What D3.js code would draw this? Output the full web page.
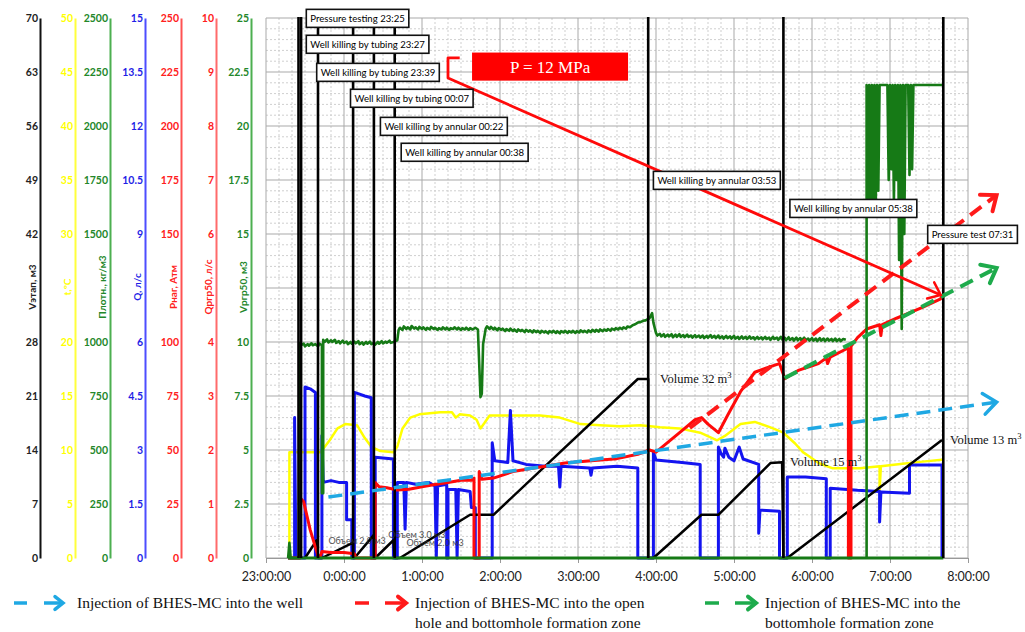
<!DOCTYPE html>
<html>
<head>
<meta charset="utf-8">
<script src="https://cdn.jsdelivr.net/npm/d3@7"></script>
<style>
  body { margin: 0; background: #fff; }
  text { font-family: Lato, "Liberation Sans", sans-serif; }
  text.serif { font-family: "Liberation Serif", "Times New Roman", serif; }
</style>
</head>
<body>
<div id="container"></div>
<script>
// times are clock readings "H:MM", the record runs from 23:00 to 8:00
const hourTicks = ["23:00:00", "0:00:00", "1:00:00", "2:00:00", "3:00:00", "4:00:00", "5:00:00", "6:00:00", "7:00:00", "8:00:00"];

// left axes (one per channel); the middle tick is left out, its place holds the title
const axisTitles = ["Vэтап, м3", "t,°C", "Плотн., кг/м3", "Q, л/с", "Рнаг, Атм", "Qргр50, л/с", "Vргр50, м3"];
const vStageTicks = [0, 7, 14, 21, 28, 42, 49, 56, 63, 70];
const tempTicks = [0, 5, 10, 15, 20, 30, 35, 40, 45, 50];
const densTicks = [0, 250, 500, 750, 1000, 1500, 1750, 2000, 2250, 2500];
const flowTicks = [0, 1.5, 3, 4.5, 6, 9, 10.5, 12, 13.5, 15];
const presTicks = [0, 25, 50, 75, 100, 150, 175, 200, 225, 250];
const qTicks = [0, 1, 2, 3, 4, 6, 7, 8, 9, 10];
const vTicks = [0, 2.5, 5, 7.5, 10, 15, 17.5, 20, 22.5, 25];

// temperature, °C
const temperature = [["23:17", 0], ["23:18", 0], ["23:18", 9.8], ["23:42", 9.8], ["23:49", 10.9], ["23:55", 12.0], ["0:01", 12.4],
  ["0:10", 12.3], ["0:16", 11.1], ["0:21", 10.3], ["0:28", 9.9], ["0:38", 9.8], ["0:41", 10.3], ["0:45", 12.0], ["0:51", 13.0],
  ["0:58", 13.3], ["1:14", 13.5], ["1:23", 13.5], ["1:26", 13.0], ["1:29", 13.3], ["1:37", 13.2], ["1:42", 12.8], ["1:45", 12.0],
  ["1:48", 12.5], ["1:52", 13.2], ["2:00", 13.2], ["2:31", 13.2], ["2:46", 13.0], ["3:02", 12.4], ["3:17", 12.3], ["3:32", 12.2],
  ["3:48", 12.3], ["4:03", 12.1], ["4:18", 12.0], ["4:34", 11.6], ["4:47", 10.9], ["4:53", 11.3], ["5:05", 12.4], ["5:16", 12.6],
  ["5:28", 12.1], ["5:38", 11.6], ["5:47", 10.6], ["5:53", 9.8], ["5:58", 9.4], ["6:05", 8.8], ["6:16", 8.3], ["6:37", 8.3],
  ["6:52", 8.5], ["6:52", 6.3], ["6:53", 8.5], ["7:08", 8.7], ["7:23", 8.9], ["7:40", 9.1]];

// flow rate Q, l/s
const flow = [["23:17", 0], ["23:22", 0], ["23:22", 3.9], ["23:23", 0], ["23:30", 0], ["23:30", 4.75], ["23:34", 4.7], ["23:38", 4.6],
  ["23:38", 0], ["23:43", 0], ["23:43", 3.4], ["23:44", 2.1], ["23:50", 2.15], ["23:56", 2.1], ["0:02", 2.1], ["0:02", 1.06],
  ["0:06", 1.06], ["0:06", 0], ["0:08", 0], ["0:08", 4.6], ["0:12", 4.55], ["0:16", 4.5], ["0:21", 4.45], ["0:21", 0], ["0:24", 0],
  ["0:24", 2.8], ["0:38", 2.75], ["0:38", 0], ["0:41", 0], ["0:41", 2.1], ["0:46", 2.1], ["0:47", 0.8], ["0:48", 2.1], ["0:55", 2.05],
  ["1:05", 2.1], ["1:10", 2.0], ["1:11", 0], ["1:12", 2.0], ["1:19", 2.05], ["1:19", 0], ["1:20", 0], ["1:20", 1.9], ["1:26", 1.9],
  ["1:27", 0], ["1:28", 1.9], ["1:37", 1.85], ["1:38", 1.4], ["1:41", 1.4], ["1:41", 0], ["1:54", 0], ["1:54", 3.2], ["1:56", 2.7],
  ["2:06", 2.65], ["2:08", 4.1], ["2:10", 2.7], ["2:20", 2.6], ["2:35", 2.55], ["2:45", 2.55], ["2:46", 1.97], ["2:47", 2.55],
  ["3:09", 2.5], ["3:10", 2.3], ["3:11", 2.5], ["3:30", 2.55], ["3:46", 2.5], ["3:46", 0], ["3:58", 0], ["3:58", 2.94], ["4:00", 2.72],
  ["4:20", 2.65], ["4:34", 2.6], ["4:34", 0], ["4:48", 0], ["4:48", 3.08], ["4:50", 2.9], ["4:52", 2.8], ["4:53", 3.05], ["4:56", 2.8],
  ["5:00", 2.7], ["5:04", 3.08], ["5:07", 2.75], ["5:19", 2.6], ["5:19", 0.69], ["5:20", 1.33], ["5:35", 1.3], ["5:35", 0], ["5:41", 0],
  ["5:41", 2.25], ["5:55", 2.25], ["6:11", 2.2], ["6:11", 0], ["6:14", 0], ["6:14", 1.94], ["6:35", 1.88], ["6:52", 1.85], ["6:52", 1.0],
  ["6:53", 1.83], ["7:15", 1.8], ["7:15", 2.58], ["7:40", 2.58], ["7:40", 0]];

// volume of the stage, m3 (resets at each operation)
const stageVolume = [["23:30", 0], ["23:39", 2.3], ["23:40", 0], ["23:43", 0], ["0:07", 2.0], ["0:07", 0], ["0:08", 0], ["0:23", 3.0],
  ["0:23", 0], ["0:24", 0], ["0:38", 2.3], ["0:39", 0], ["0:43", 0], ["1:37", 5.6], ["1:55", 5.6], ["3:46", 23.2], ["3:54", 23.2],
  ["3:54", 0], ["3:58", 0], ["4:35", 5.6], ["4:48", 5.6], ["5:28", 12.3], ["5:37", 12.4], ["5:38", 0], ["5:41", 0], ["7:40", 15.3]];

// injection pressure, atm
const pressure = [["23:17", 0], ["23:26", 0], ["23:26", 28], ["23:29", 26], ["23:34", 13], ["23:40", 1], ["23:42", 1], ["23:43", 3],
  ["23:50", 2.5], ["0:00", 2.5], ["0:08", 2], ["0:09", 0], ["0:24", 0], ["0:24", 35], ["0:27", 33], ["0:33", 32.5], ["0:41", 31.5],
  ["0:50", 31.8], ["1:00", 33], ["1:10", 34], ["1:20", 35], ["1:30", 36], ["1:38", 36], ["1:40", 37], ["1:40", 0], ["1:44", 0],
  ["1:44", 40], ["1:46", 36.5], ["1:55", 37], ["2:10", 40], ["2:30", 42], ["2:50", 44], ["3:10", 45], ["3:30", 46], ["3:46", 48],
  ["3:55", 50], ["4:00", 49], ["4:10", 54], ["4:20", 59], ["4:30", 64], ["4:35", 65], ["4:40", 62], ["4:48", 58], ["4:55", 66],
  ["5:05", 77], ["5:16", 86], ["5:25", 88], ["5:35", 90], ["5:38", 85], ["5:39", 83], ["5:50", 87], ["6:00", 89], ["6:05", 90],
  ["6:11", 92.6], ["6:12", 90], ["6:14", 93], ["6:27", 97], ["6:28", 97], ["6:28", 0], ["6:30", 0], ["6:30", 98], ["6:35", 102],
  ["6:42", 106], ["6:52", 108], ["6:53", 103], ["6:54", 108], ["7:05", 111], ["7:13", 113], ["7:25", 116], ["7:39", 120], ["7:40", 121.8]];

// fluid density, kg/m3 (null = no record)
const density = [["23:17", 0], ["23:18", 70], ["23:19", 0], ["23:26", 0], ["23:26", 995], ["23:27", 985], ["23:29", 992], ["23:30", 980],
  ["23:32", 990], ["23:33", 983], ["23:35", 994], ["23:36", 985], ["23:38", 990], ["23:40", 980], ["23:41", 992], ["23:43", 985],
  ["23:43", 300], ["23:44", 300], ["23:44", 1010], ["23:45", 1000], ["23:47", 1012], ["23:48", 998], ["23:50", 1008], ["23:51", 1000],
  ["23:53", 1010], ["23:54", 996], ["23:56", 1004], ["23:57", 994], ["23:59", 1006], ["0:00", 996], ["0:02", 1002], ["0:03", 990],
  ["0:05", 1000], ["0:06", 992], ["0:08", 1002], ["0:09", 994], ["0:11", 1004], ["0:12", 990], ["0:14", 998], ["0:15", 988],
  ["0:17", 1000], ["0:18", 992], ["0:20", 1002], ["0:21", 990], ["0:23", 996], ["0:24", 988], ["0:26", 1000], ["0:27", 992],
  ["0:29", 1004], ["0:30", 994], ["0:32", 1002], ["0:33", 996], ["0:35", 1006], ["0:36", 996], ["0:38", 1000], ["0:41", 1008],
  ["0:42", 1055], ["0:43", 1066], ["0:45", 1056], ["0:46", 1072], ["0:48", 1060], ["0:49", 1068], ["0:51", 1058], ["0:52", 1074],
  ["0:54", 1062], ["0:55", 1068], ["0:57", 1058], ["0:58", 1070], ["1:00", 1060], ["1:01", 1068], ["1:03", 1056], ["1:04", 1066],
  ["1:06", 1058], ["1:07", 1070], ["1:09", 1060], ["1:10", 1066], ["1:12", 1056], ["1:13", 1064], ["1:15", 1058], ["1:16", 1068],
  ["1:18", 1058], ["1:19", 1066], ["1:21", 1056], ["1:22", 1064], ["1:24", 1060], ["1:25", 1068], ["1:27", 1058], ["1:28", 1066],
  ["1:30", 1056], ["1:31", 1064], ["1:33", 1058], ["1:34", 1066], ["1:36", 1056], ["1:37", 1064], ["1:39", 1058], ["1:41", 1066],
  ["1:43", 1058], ["1:45", 745], ["1:46", 760], ["1:47", 990], ["1:49", 1062], ["1:50", 1072], ["1:52", 1060], ["1:53", 1070],
  ["1:55", 1058], ["1:56", 1066], ["1:58", 1054], ["1:59", 1064], ["2:01", 1056], ["2:02", 1062], ["2:04", 1050], ["2:05", 1060],
  ["2:07", 1052], ["2:08", 1062], ["2:10", 1050], ["2:11", 1058], ["2:13", 1048], ["2:14", 1058], ["2:16", 1050], ["2:17", 1056],
  ["2:19", 1046], ["2:20", 1056], ["2:22", 1048], ["2:23", 1054], ["2:25", 1044], ["2:26", 1054], ["2:28", 1046], ["2:29", 1052],
  ["2:31", 1042], ["2:32", 1052], ["2:34", 1044], ["2:35", 1050], ["2:37", 1040], ["2:38", 1050], ["2:40", 1044], ["2:41", 1052],
  ["2:43", 1042], ["2:44", 1050], ["2:46", 1040], ["2:47", 1050], ["2:49", 1044], ["2:50", 1052], ["2:52", 1042], ["2:53", 1050],
  ["2:55", 1044], ["2:56", 1052], ["2:58", 1042], ["2:59", 1050], ["3:01", 1044], ["3:02", 1054], ["3:04", 1046], ["3:05", 1052],
  ["3:07", 1044], ["3:08", 1054], ["3:10", 1046], ["3:11", 1056], ["3:13", 1048], ["3:14", 1056], ["3:16", 1048], ["3:17", 1058],
  ["3:19", 1050], ["3:20", 1058], ["3:22", 1052], ["3:23", 1060], ["3:25", 1052], ["3:26", 1062], ["3:28", 1056], ["3:29", 1064],
  ["3:31", 1058], ["3:32", 1066], ["3:34", 1060], ["3:35", 1068], ["3:37", 1062], ["3:38", 1072], ["3:40", 1068], ["3:42", 1078],
  ["3:44", 1082], ["3:46", 1090], ["3:48", 1092], ["3:50", 1098], ["3:52", 1100], ["3:55", 1110], ["3:57", 1134], ["3:58", 1090],
  ["4:00", 1042], ["4:01", 1030], ["4:03", 1038], ["4:04", 1026], ["4:06", 1036], ["4:07", 1024], ["4:09", 1034], ["4:10", 1026],
  ["4:12", 1036], ["4:13", 1022], ["4:15", 1034], ["4:16", 1024], ["4:18", 1036], ["4:19", 1024], ["4:21", 1032], ["4:22", 1022],
  ["4:24", 1034], ["4:25", 1024], ["4:27", 1030], ["4:28", 1020], ["4:30", 1032], ["4:31", 1022], ["4:33", 1030], ["4:34", 1020],
  ["4:36", 1030], ["4:37", 1018], ["4:39", 1028], ["4:40", 1020], ["4:42", 1032], ["4:43", 1020], ["4:45", 1028], ["4:46", 1018],
  ["4:48", 1030], ["4:49", 1018], ["4:51", 1026], ["4:52", 1016], ["4:54", 1028], ["4:55", 1018], ["4:57", 1026], ["4:58", 1016],
  ["5:00", 1028], ["5:01", 1016], ["5:03", 1024], ["5:04", 1014], ["5:06", 1026], ["5:07", 1016], ["5:09", 1024], ["5:10", 1014],
  ["5:12", 1026], ["5:13", 1016], ["5:15", 1022], ["5:16", 1012], ["5:18", 1024], ["5:19", 1014], ["5:21", 1022], ["5:22", 1012],
  ["5:24", 1024], ["5:25", 1014], ["5:27", 1020], ["5:28", 1010], ["5:30", 1024], ["5:31", 1014], ["5:33", 1020], ["5:34", 1010],
  ["5:36", 1024], ["5:37", 1012], ["5:39", 1020], ["5:40", 1008], ["5:42", 1022], ["5:43", 1010], ["5:45", 1018], ["5:46", 1006],
  ["5:48", 1020], ["5:49", 1008], ["5:51", 1018], ["5:52", 1006], ["5:54", 1020], ["5:55", 1008], ["5:57", 1016], ["5:58", 1006],
  ["6:00", 1018], ["6:01", 1006], ["6:03", 1016], ["6:04", 1004], ["6:06", 1018], ["6:07", 1006], ["6:09", 1016], ["6:10", 1004],
  ["6:12", 1016], ["6:13", 1006], ["6:15", 1014], ["6:16", 1004], ["6:18", 1016], ["6:19", 1004], ["6:21", 1014], ["6:22", 1004],
  ["6:24", 1014], ["6:26", 1010],
  ["6:27", null], ["6:42", 0], ["6:42", 2190], ["6:43", 1590], ["6:44", 2190], ["6:45", 1620], ["6:46", 2190], ["6:47", 1660],
  ["6:48", 2190], ["6:49", 1600], ["6:50", 2190], ["6:51", 1700], ["6:52", 2190], ["6:58", 2190], ["6:59", 1750], ["7:00", 2190],
  ["7:01", 1800], ["7:02", 2190], ["7:03", 1650], ["7:04", 2190], ["7:05", 1750], ["7:06", 2190], ["7:07", 1380], ["7:08", 2190],
  ["7:09", 1060], ["7:10", 2190], ["7:11", 1500], ["7:12", 2190], ["7:14", 2190], ["7:15", 1773], ["7:16", 2190], ["7:17", 1800],
  ["7:18", 2190], ["7:41", 2190]];

// Vргр50, m3
const vrgr = [["23:17", 0], ["7:41", 0]];

// operations: vertical markers and their captions [text, box left time, box top on the 0-25 axis]
const eventTimes = ["23:25", "23:27", "23:40", "0:07", "0:23", "0:39", "3:54", "5:38", "7:41"];
const eventLabels = [
  ["Pressure testing 23:25", "23:31", 25.4],
  ["Well killing by tubing 23:27", "23:31", 24.2],
  ["Well killing by tubing 23:39", "23:39", 22.9],
  ["Well killing by tubing 00:07", "0:05", 21.7],
  ["Well killing by annular 00:22", "0:28", 20.4],
  ["Well killing by annular 00:38", "0:44", 19.2],
  ["Well killing by annular 03:53", "3:58", 17.9],
  ["Well killing by annular 05:38", "5:43", 16.6],
  ["Pressure test 07:31", "7:29", 15.4]
];

// stage volume captions next to the end of each ramp
const volumeNotes = [["Volume 32 m", "3:57", 23.2], ["Volume 15 m", "5:37", 12.4], ["Volume 13 m", "7:40", 15.3]];
const smallNotes = [["Объем 2.0 м3", "23:48", 1.8], ["Объем 3.0 м3", "0:34", 2.6], ["Объем 2.0 м3", "0:48", 1.6]];

// trend arrows, drawn in atm
const wellTrend = [["23:48", 28.2], ["8:22", 72.2]];
const openHoleTrend = [["4:26", 60.2], ["8:22", 168]];
const zoneTrend = [["5:39", 83.3], ["8:22", 134.3]];
const pressureCallout = [["1:29", 231.5], ["1:20", 231.5], ["1:20", 222.2], ["7:39", 121.8]];
const pressureBox = [["1:38:30", 234], ["3:38:30", 221]];

const legendItems = [
  ["Injection of BHES-MC into the well"],
  ["Injection of BHES-MC into the open", "hole and bottomhole formation zone"],
  ["Injection of BHES-MC into the", "bottomhole formation zone"]
];

const toMin = s => {
  const [h, m, sec = 0] = s.split(":").map(Number);
  return ((h + 1) % 24) * 60 + m + sec / 60;
};

const width = 1025, height = 632;
const plotTop = 18, plotBottom = 558;

const svg = d3.select("#container").append("svg")
  .attr("width", width)
  .attr("height", height)
  .attr("viewBox", [0, 0, width, height]);

const x = d3.scaleLinear().domain([0, 540]).range([266, 968]);
const yScale = max => d3.scaleLinear().domain([0, max]).range([plotBottom, plotTop]);
const yStage = yScale(70), yTemp = yScale(50), yDens = yScale(2500), yFlow = yScale(15),
  yPres = yScale(250), yQ = yScale(10), yV = yScale(25);

// grid
const gy = d3.scaleLinear().domain([0, 50]).range([plotBottom, plotTop]);
const grid = svg.append("g");
grid.selectAll(".hm").data(d3.range(0, 51).filter(d => d % 5)).join("line")
  .attr("x1", x(0)).attr("x2", x(540)).attr("y1", gy).attr("y2", gy)
  .attr("stroke", "#cfcfcf").attr("stroke-dasharray", "2,2");
grid.selectAll(".vm").data(d3.range(0, 541, 10).filter(d => d % 60)).join("line")
  .attr("x1", x).attr("x2", x).attr("y1", plotTop).attr("y2", plotBottom)
  .attr("stroke", "#cfcfcf").attr("stroke-dasharray", "2,2");
grid.selectAll(".hM").data(d3.range(0, 51, 5)).join("line")
  .attr("x1", x(0)).attr("x2", x(540)).attr("y1", gy).attr("y2", gy)
  .attr("stroke", "#a9a9a9");
grid.selectAll(".vM").data(d3.range(0, 541, 60)).join("line")
  .attr("x1", x).attr("x2", x).attr("y1", plotTop).attr("y2", plotBottom)
  .attr("stroke", "#a9a9a9");

// x axis
svg.append("g")
  .attr("transform", `translate(0,${plotBottom})`)
  .call(d3.axisBottom(x).tickValues(d3.range(0, 541, 60)).tickFormat((d, i) => hourTicks[i]).tickSize(5).tickPadding(9))
  .call(g => g.select(".domain").attr("stroke", "#999"))
  .call(g => g.selectAll(".tick line").attr("stroke", "#999"))
  .call(g => g.selectAll("text").attr("font-size", 12.5).attr("fill", "#222"));

// left axes
const axes = [
  [yStage, vStageTicks, 40, "#111", "#222"],
  [yTemp, tempTicks, 75, "#ffff3c", "#ffff00"],
  [yDens, densTicks, 110, "#4caf50", "#23872a"],
  [yFlow, flowTicks, 145, "#4d4dff", "#1f1fe6"],
  [yPres, presTicks, 181, "#ff5252", "#ff2020"],
  [yQ, qTicks, 216, "#ff6b6b", "#ff2020"],
  [yV, vTicks, 251, "#4caf50", "#23872a"]
];
axes.forEach(([scale, ticks, ax, line, ink], i) => {
  svg.append("g")
    .attr("transform", `translate(${ax},0)`)
    .call(d3.axisLeft(scale).tickValues(ticks).tickFormat(d => d).tickSize(0).tickPadding(2))
    .call(g => g.select(".domain").attr("stroke", line).attr("stroke-width", 2))
    .call(g => g.selectAll("text").attr("fill", ink).attr("font-size", 10.5).attr("font-weight", "bold"));
  svg.append("text")
    .attr("transform", `translate(${ax - 4},287) rotate(-90)`)
    .attr("text-anchor", "middle")
    .attr("font-size", 10)
    .attr("font-weight", "bold")
    .attr("fill", ink)
    .text(axisTitles[i]);
});

const lineOf = y => d3.line().defined(d => d[1] != null).x(d => x(toMin(d[0]))).y(d => y(d[1]));
const series = (data, y, color, w) => svg.append("path")
  .attr("d", lineOf(y)(data))
  .attr("fill", "none")
  .attr("stroke", color)
  .attr("stroke-width", w)
  .attr("stroke-linejoin", "round");

series(temperature, yTemp, "#ffff00", 2.5);
series(flow, yFlow, "#1414f0", 3);
series(stageVolume, yStage, "#000", 2.5);
series(pressure, yPres, "#ff0a0a", 3);
series(density, yDens, "#167a16", 2.6);
series(vrgr, yV, "#167a16", 3);

// operation markers
svg.append("g").selectAll("line").data(eventTimes).join("line")
  .attr("x1", d => x(toMin(d))).attr("x2", d => x(toMin(d)))
  .attr("y1", plotTop - 1).attr("y2", plotBottom)
  .attr("stroke", "#000").attr("stroke-width", 2.6);

// volume captions
volumeNotes.forEach(([t, tm, v]) => {
  const tx = svg.append("text").attr("class", "serif")
    .attr("x", x(toMin(tm)) + 8).attr("y", yStage(v) + 4)
    .attr("font-size", 12.5).attr("fill", "#111");
  tx.append("tspan").text(t);
  tx.append("tspan").attr("font-size", 8.5).attr("dy", -5).text("3");
});
svg.append("g").selectAll("text").data(smallNotes).join("text")
  .attr("x", d => x(toMin(d[1]))).attr("y", d => yStage(d[2]))
  .attr("font-size", 9).attr("fill", "#333").attr("opacity", 0.85)
  .text(d => d[0]);

// arrow heads
const defs = svg.append("defs");
const head = (id, color, arm, w) => defs.append("marker")
  .attr("id", id).attr("markerUnits", "userSpaceOnUse")
  .attr("markerWidth", 1).attr("markerHeight", 1)
  .attr("orient", "auto").attr("overflow", "visible")
  .append("path")
  .attr("d", `M${-arm},${-arm * 0.8}L0,0L${-arm},${arm * 0.8}`)
  .attr("fill", "none").attr("stroke", color).attr("stroke-width", w)
  .attr("stroke-linecap", "round").attr("stroke-linejoin", "miter");
head("h-blue", "#1fa8e3", 13, 3.5);
head("h-red", "#ff1a1a", 13, 4);
head("h-green", "#1eab4c", 13, 4);
head("h-call", "#ff0a0a", 11, 2.5);
head("l-blue", "#1fa8e3", 8, 3.5);
head("l-red", "#ff1a1a", 8, 4);
head("l-green", "#1eab4c", 8, 4);

const trend = (data, color, w, id) => series(data, yPres, color, w)
  .attr("stroke-dasharray", "14,8")
  .attr("marker-end", `url(#${id})`);
trend(wellTrend, "#1fa8e3", 3.5, "h-blue");
trend(openHoleTrend, "#ff1a1a", 4, "h-red");
trend(zoneTrend, "#1eab4c", 4, "h-green");

series(pressureCallout, yPres, "#ff0a0a", 2.8).attr("marker-end", "url(#h-call)");

// P = 12 MPa box
const [b0, b1] = pressureBox;
svg.append("rect")
  .attr("x", x(toMin(b0[0]))).attr("y", yPres(b0[1]))
  .attr("width", x(toMin(b1[0])) - x(toMin(b0[0])))
  .attr("height", yPres(b1[1]) - yPres(b0[1]))
  .attr("fill", "#ff0000");
svg.append("text").attr("class", "serif")
  .attr("x", (x(toMin(b0[0])) + x(toMin(b1[0]))) / 2)
  .attr("y", (yPres(b0[1]) + yPres(b1[1])) / 2 + 6)
  .attr("text-anchor", "middle")
  .attr("font-size", 17).attr("fill", "#fff")
  .text("P = 12 MPa");

// operation captions
eventLabels.forEach(([t, tm, lv]) => {
  const g = svg.append("g").attr("transform", `translate(${x(toMin(tm))},${yV(lv)})`);
  const box = g.append("rect").attr("height", 18).attr("fill", "#fff").attr("stroke", "#111").attr("stroke-width", 1.6);
  const tx = g.append("text").attr("x", 4).attr("y", 12.5).attr("font-size", 9.6).attr("fill", "#000").text(t);
  box.attr("width", tx.node().getComputedTextLength() + 8);
});

// legend
const lx = [[14, 27, 44, 63, 77], [355, 369, 385, 406, 415], [705, 719, 735, 756, 765]];
const lc = [["#1fa8e3", "l-blue"], ["#ff1a1a", "l-red"], ["#1eab4c", "l-green"]];
legendItems.forEach((lines, i) => {
  const [d0, d1, a0, a1, t0] = lx[i];
  const g = svg.append("g");
  g.append("line").attr("x1", d0).attr("x2", d1).attr("y1", 603).attr("y2", 603)
    .attr("stroke", lc[i][0]).attr("stroke-width", 3.5);
  g.append("line").attr("x1", a0).attr("x2", a1).attr("y1", 603).attr("y2", 603)
    .attr("stroke", lc[i][0]).attr("stroke-width", 3.5).attr("marker-end", `url(#${lc[i][1]})`);
  g.selectAll("text").data(lines).join("text").attr("class", "serif")
    .attr("x", t0).attr("y", (d, j) => 608 + j * 20)
    .attr("font-size", 15.5).attr("fill", "#111")
    .text(d => d);
});
</script>
</body>
</html>
